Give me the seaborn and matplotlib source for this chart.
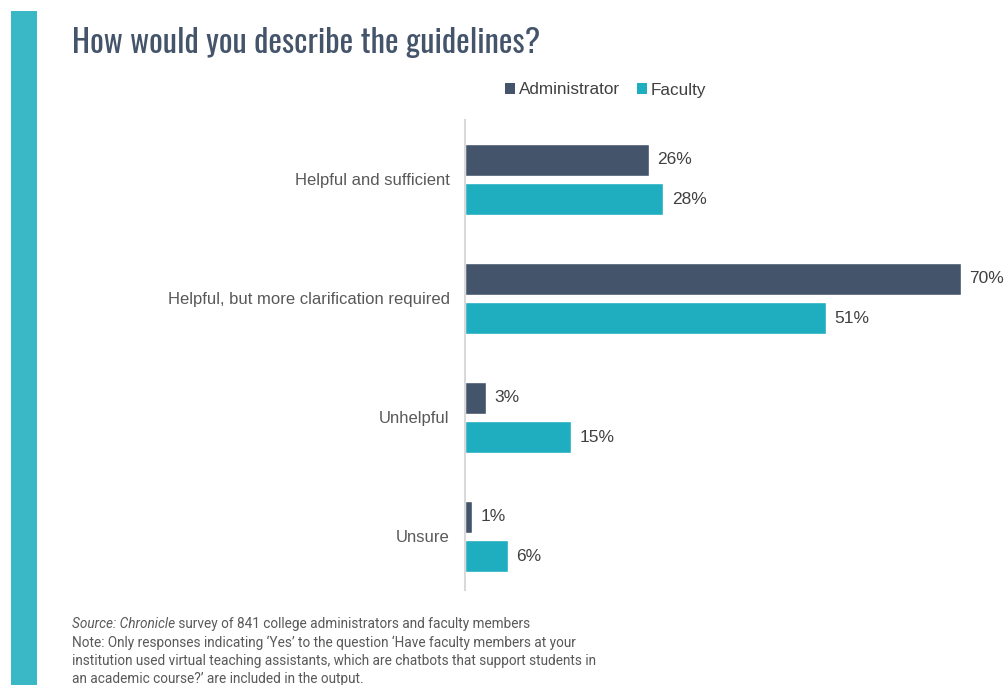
import matplotlib
matplotlib.use("Agg")
import matplotlib.pyplot as plt
import seaborn as sns
import pandas as pd
from matplotlib.patches import Rectangle, Patch
from matplotlib import font_manager

categories = ["Helpful and sufficient", "Helpful, but more clarification required", "Unhelpful", "Unsure"]
groups = ["Administrator", "Faculty"]
administrator = [26, 70, 3, 1]
faculty = [28, 51, 15, 6]

title = "How would you describe the guidelines?"
source_italic = "Source: Chronicle"
source_rest = " survey of 841 college administrators and faculty members"
note_lines = [
    "Note: Only responses indicating \u2018Yes\u2019 to the question \u2018Have faculty members at your",
    "institution used virtual teaching assistants, which are chatbots that support students in",
    "an academic course?\u2019 are included in the output.",
]

colors = {"Administrator": "#44546A", "Faculty": "#1FAEC0"}

df = pd.DataFrame({
    "category": categories * 2,
    "group": ["Administrator"] * len(categories) + ["Faculty"] * len(categories),
    "value": administrator + faculty,
})

sns.set_theme(style="white")
plt.rcParams["font.family"] = ["Liberation Sans", "DejaVu Sans"]


def pick_font(cands, default):
    for c in cands:
        try:
            font_manager.findfont(font_manager.FontProperties(family=c), fallback_to_default=False)
            return c
        except Exception:
            continue
    return default


title_font = pick_font(["Oswald", "Roboto Condensed", "Liberation Sans Narrow",
                        "DejaVu Sans Condensed", "Open Sans Condensed"], "Roboto")

W, H = 1005, 685
fig = plt.figure(figsize=(W / 100, H / 100), dpi=100)
ax = fig.add_axes([465 / W, 1 - 590 / H, 496 / W, 470 / H])

sns.barplot(data=df, y="category", x="value", hue="group", order=categories,
            hue_order=groups, palette=colors, orient="h", width=0.664, gap=0.19,
            ax=ax, legend=False, saturation=1)

ax.set_xlim(0, 70)
ax.set_ylim(3.45, -0.5)
ax.set_xlabel("")
ax.set_ylabel("")
ax.set_xticks([])
for s in ["top", "right", "bottom"]:
    ax.spines[s].set_visible(False)
ax.spines["left"].set_color("#D9D9D9")
ax.spines["left"].set_linewidth(1.5)
ax.tick_params(axis="y", length=0, pad=11, labelsize=12, labelcolor="#595959")

for cont in ax.containers:
    ax.bar_label(cont, fmt="%d%%", padding=6, fontsize=12.5, color="#404040", clip_on=False)

handles = [Patch(facecolor=colors[g], edgecolor="none", label=g) for g in groups]
fig.legend(handles=handles, loc="center", bbox_to_anchor=(606 / W, 1 - 90 / H), ncol=2,
           frameon=False, handlelength=0.55, handleheight=0.55, handletextpad=0.25,
           columnspacing=1.0, prop={"size": 12.3}, labelcolor="#404040")

# left stripe
fig.patches.append(Rectangle((11 / W, 0), 26 / W, 1 - 11 / H, transform=fig.transFigure,
                             facecolor="#3AB8C6", edgecolor="none", zorder=0))

tt = fig.text(72 / W, 1 - 53 / H, title, fontsize=24, color="#44546A",
              family=[title_font, "DejaVu Sans"], va="baseline", ha="left")
fig.canvas.draw()
tw = tt.get_window_extent().width
tt.set_fontsize(24 * 468 / tw)

foot_family = ["Roboto", "DejaVu Sans"]
fs = 9.8
t1 = fig.text(72 / W, 1 - 624 / H, source_italic, fontsize=fs, color="#595959",
              style="italic", family=foot_family, va="center", ha="left")
fig.canvas.draw()
bb = t1.get_window_extent()
fig.text(bb.x1 / W, 1 - 624 / H, source_rest, fontsize=fs, color="#595959",
         family=foot_family, va="center", ha="left")
for i, line in enumerate(note_lines):
    fig.text(72 / W, 1 - (642.5 + 18.5 * i) / H, line, fontsize=fs, color="#595959",
             family=foot_family, va="center", ha="left")

fig.savefig("out.png", dpi=100)
